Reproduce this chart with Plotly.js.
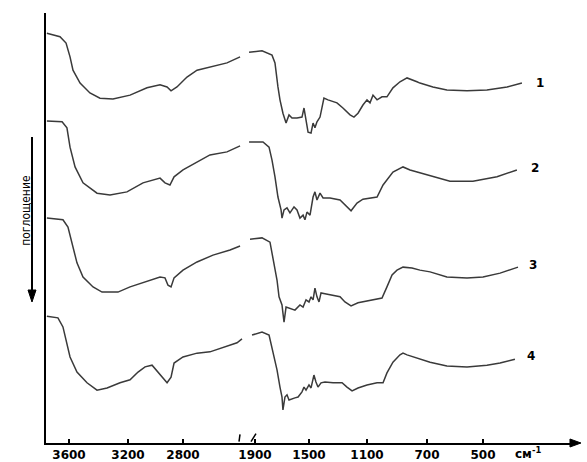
<!DOCTYPE html>
<html><head><meta charset="utf-8">
<script src="https://cdn.plot.ly/plotly-3.0.1.min.js"></script>
<style>html,body{margin:0;padding:0;background:#fff}#chart{width:587px;height:462px}</style>
</head><body><div id="chart"></div>
<script>
// ---- data ----
const tickWn = [3600, 3200, 2800, 1900, 1500, 1100, 700, 500];
const tickLabels = ['3600', '3200', '2800', '1900', '1500', '1100', '700', '500'];
const sampleLabels = ['1', '2', '3', '4'];
const labelWn = [296, 314, 321, 329];
const labelT = [83.7, 64.0, 41.4, 20.2];

const s1Wn = [3750,3661,3620,3593,3573,3525,3458,3390,3302,3185,3062,2967,2916,2887,2844,2771,2698,2604,2480,2385,
  1944,1848,1774,1752,1730,1715,1693,1670,1648,1626,1589,1552,1537,1522,1507,1486,1472,1459,1445,1424,
  1397,1369,1307,1266,1217,1190,1162,1128,1100,1080,1060,1033,1000,967,927,880,833,767,747,679,629,557,486,414,361];
const s1T = [95.3,94.5,93.0,89.8,86.7,83.7,81.4,80.2,80.0,80.9,82.6,83.3,82.8,81.9,82.8,85.1,86.7,87.4,88.4,89.8,
  90.9,91.2,90.2,88.4,82.8,79.8,76.7,74.4,76.3,75.6,75.6,75.8,77.9,75.1,72.3,72.1,74.4,73.3,74.7,75.8,
  80.2,79.8,79.1,77.9,76.3,75.8,76.7,78.6,79.8,79.1,80.9,79.8,80.5,80.5,82.6,84.0,84.9,84.0,83.7,82.8,82.1,81.9,82.1,82.8,83.7];

const s2Wn = [3750,3647,3614,3593,3559,3505,3410,3322,3207,3091,2967,2931,2895,2865,2800,2698,2604,2480,2385,
  1944,1841,1796,1774,1752,1730,1707,1700,1685,1663,1641,1611,1589,1567,1544,1530,1515,1493,1472,1459,
  1445,1424,1403,1355,1286,1238,1210,1169,1128,1033,993,927,860,813,793,689,618,536,450,379];
const s2T = [74.9,74.7,73.3,68.8,64.2,60.5,58.1,57.7,58.4,60.5,61.6,60.5,60.0,61.9,63.5,65.3,67.0,67.7,69.1,
  70.0,70.0,68.8,65.8,61.9,57.2,54.2,52.3,54.2,54.7,53.5,54.9,54.2,52.3,53.0,51.9,53.7,53.0,57.2,58.4,
  56.5,58.1,57.0,57.0,56.5,54.9,54.0,55.8,56.7,57.2,60.0,63.0,64.2,63.5,63.3,62.3,60.9,60.9,61.9,63.5];

const s3Wn = [3750,3641,3607,3580,3546,3505,3437,3376,3268,3185,3062,2967,2931,2909,2887,2865,2800,2698,2582,2458,2385,
  1937,1848,1789,1767,1737,1722,1700,1693,1685,1670,1648,1604,1567,1544,1522,1500,1486,1472,1459,1445,
  1431,1417,1390,1334,1286,1252,1210,1162,1100,1033,1000,967,933,900,860,800,747,689,629,557,500,439,375];
const s3T = [52.3,51.9,50.2,46.5,41.9,38.6,36.3,35.1,35.1,36.3,37.7,38.6,38.4,36.7,36.3,38.4,40.2,42.1,43.7,44.9,45.8,
  47.4,47.7,46.7,43.3,37.9,34.0,32.1,30.2,28.1,31.6,31.4,30.9,32.1,31.6,33.3,32.8,34.0,33.3,36.0,34.0,
  32.8,34.9,34.7,34.4,34.0,32.8,31.9,32.6,33.0,33.5,33.7,36.3,39.1,40.2,40.9,40.7,40.2,39.8,38.6,38.4,38.6,39.5,40.9];

const s4Wn = [3750,3675,3641,3620,3593,3546,3478,3410,3342,3254,3185,3127,3076,3025,2982,2945,2916,2887,2865,2800,2698,2604,2509,2407,2371,
  1922,1848,1796,1774,1737,1715,1700,1693,1678,1663,1648,1604,1581,1552,1537,1522,1500,1486,1466,1452,
  1438,1417,1390,1334,1272,1238,1203,1162,1100,1033,993,967,927,880,860,833,767,689,629,557,486,439,386];
const s4T = [29.5,29.1,27.0,24.0,20.0,16.5,14.0,12.3,12.8,14.0,14.7,16.5,17.7,18.1,16.5,15.1,14.0,15.3,18.6,20.0,20.9,21.2,22.3,23.3,24.2,
  25.1,25.8,25.1,22.3,17.0,13.0,10.7,7.7,10.7,11.2,10.0,10.5,10.7,11.9,13.0,12.3,13.5,12.8,15.8,14.2,
  13.0,14.0,14.2,14.0,14.0,13.0,12.1,12.8,13.5,14.0,14.0,16.3,18.8,20.5,20.9,20.5,19.8,18.8,17.9,17.7,18.1,18.6,19.5];

// ---- broken, piecewise-linear wavenumber scale (as on the instrument chart) ----
const scaleAt = [23, 82, 137, 209, 263, 321, 381, 437];
const BREAK = 2200;
function pos(w) {
  const idx = w >= BREAK ? [0, 1, 2] : [3, 4, 5, 6, 7];
  let k = 0;
  while (k < idx.length - 2 && w < tickWn[idx[k + 1]]) k++;
  const a = idx[k], b = idx[k + 1];
  return scaleAt[a] + (w - tickWn[a]) * (scaleAt[b] - scaleAt[a]) / (tickWn[b] - tickWn[a]);
}
function series(wn, t) {
  const xs = [], ys = [];
  for (let i = 0; i < wn.length; i++) {
    if (i > 0 && wn[i - 1] >= BREAK && wn[i] < BREAK) { xs.push(null); ys.push(null); }
    xs.push(pos(wn[i])); ys.push(t[i]);
  }
  return { x: xs, y: ys, type: 'scatter', mode: 'lines', connectgaps: false,
           line: { color: '#3a3a3a', width: 1.5 }, hoverinfo: 'skip', showlegend: false };
}

const traces = [series(s1Wn, s1T), series(s2Wn, s2T), series(s3Wn, s3T), series(s4Wn, s4T)];

const boldFont = { family: 'DejaVu Sans', size: 12, color: '#000', weight: 'bold' };
const annotations = sampleLabels.map((s, i) => ({
  x: pos(labelWn[i]), y: labelT[i], xref: 'x', yref: 'y', text: s, showarrow: false,
  font: boldFont, xanchor: 'center'
}));
annotations.push({ x: 0.882, y: -0.024, xref: 'paper', yref: 'paper', text: 'см<sup>-1</sup>', showarrow: false,
  xanchor: 'left', yanchor: 'middle', font: boldFont });
annotations.push({ x: -0.0548, y: 0.54, xref: 'paper', yref: 'paper', text: 'поглощение', textangle: -90,
  showarrow: false, font: { family: 'DejaVu Sans Condensed, DejaVu Sans', size: 12, color: '#000' } });

const shapes = [
  // axis-break marks
  { type: 'line', xref: 'x', yref: 'paper', x0: 193, x1: 194, y0: 0.003, y1: 0.02, line: { color: '#000', width: 1.5 } },
  { type: 'line', xref: 'x', yref: 'paper', x0: 205, x1: 210, y0: 0.003, y1: 0.022, line: { color: '#000', width: 1.5 } },
  // x-axis arrow head
  { type: 'path', xref: 'paper', yref: 'paper', path: 'M 0.9905 0.0093 L 1.0113 0 L 0.9905 -0.0093 Z',
    fillcolor: '#000', line: { color: '#000', width: 1 } },
  // "absorption" arrow
  { type: 'line', xref: 'paper', yref: 'paper', x0: -0.02647, x1: -0.02647, y0: 0.7116, y1: 0.3512,
    line: { color: '#000', width: 2 } },
  { type: 'path', xref: 'paper', yref: 'paper', path: 'M -0.0340 0.3558 L -0.0189 0.3558 L -0.02647 0.3279 Z',
    fillcolor: '#000', line: { color: '#000', width: 1 } }
];

const layout = {
  width: 587, height: 462,
  margin: { l: 46, r: 12, t: 13, b: 19 },
  paper_bgcolor: '#fff', plot_bgcolor: '#fff',
  showlegend: false,
  xaxis: { range: [0, 529], showgrid: false, zeroline: false, showline: true, linecolor: '#000', linewidth: 2,
    ticks: 'inside', ticklen: 4, tickwidth: 2, tickcolor: '#000',
    tickvals: tickWn.map(pos), ticktext: tickLabels,
    tickfont: boldFont, fixedrange: true },
  yaxis: { range: [0, 100], showgrid: false, zeroline: false, showline: true, linecolor: '#000', linewidth: 2,
    showticklabels: false, ticks: '', fixedrange: true },
  annotations: annotations,
  shapes: shapes
};

Plotly.newPlot('chart', traces, layout, { displayModeBar: false, staticPlot: true });
</script>
</body></html>
